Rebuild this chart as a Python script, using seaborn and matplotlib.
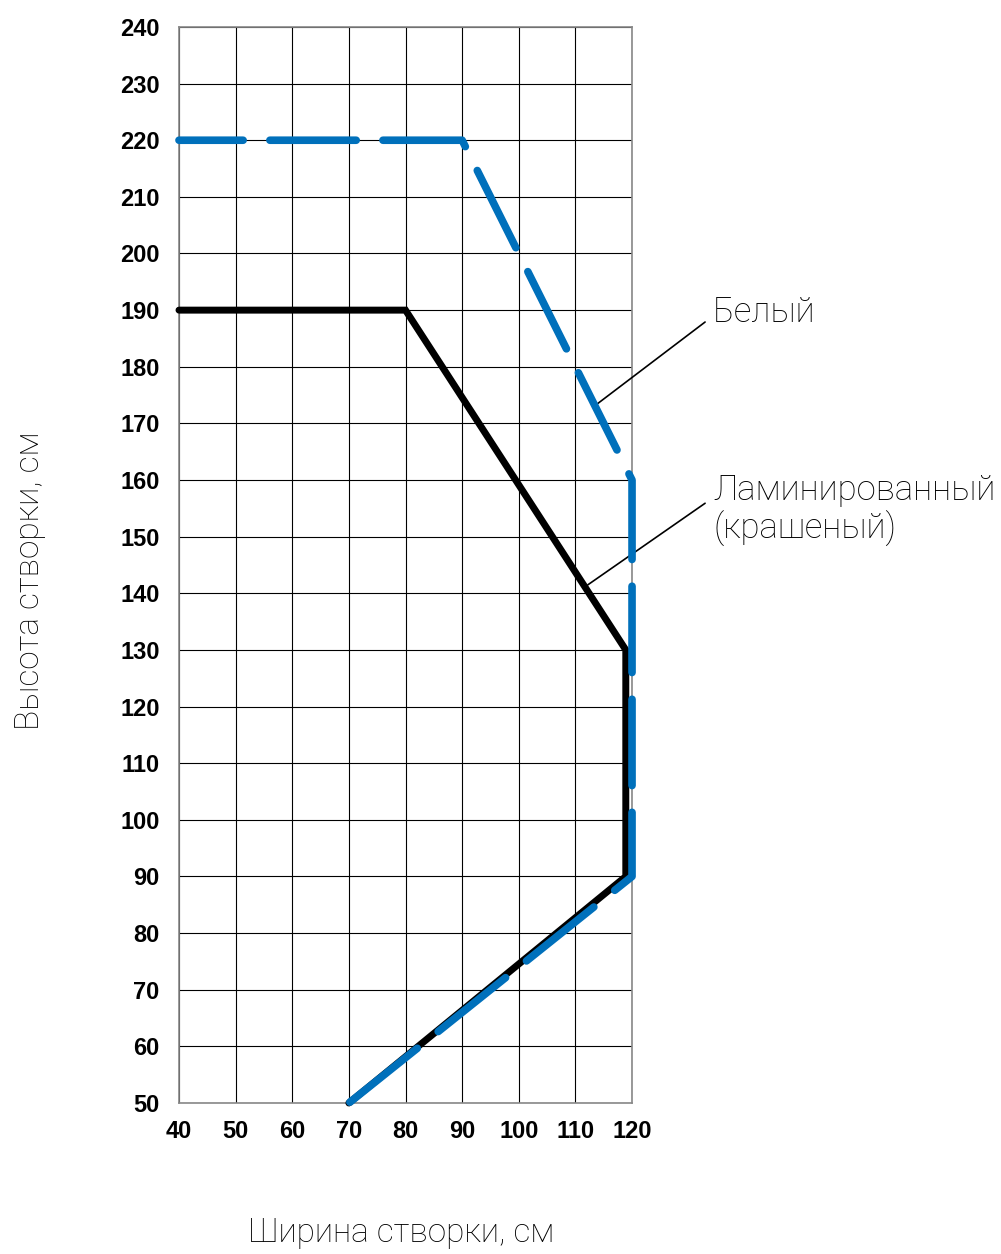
import matplotlib
matplotlib.use("Agg")
import matplotlib.pyplot as plt
import seaborn as sns
import pandas as pd

white_x = [40, 90, 120, 120, 70]
white_y = [220, 220, 160, 90, 50]
lam_x = [40, 80, 118.9, 118.9, 70]
lam_y = [190, 190, 130, 90, 50]
x_ticks = [40, 50, 60, 70, 80, 90, 100, 110, 120]
y_ticks = list(range(50, 241, 10))
label_white = "Белый"
label_lam = "Ламинированный\n(крашеный)"
xlabel = "Ширина створки, см"
ylabel = "Высота створки, см"

sns.set_style("white")
plt.rcParams['font.family'] = ['Liberation Sans', 'DejaVu Sans']
plt.rcParams['text.color'] = 'black'
plt.rcParams['xtick.color'] = 'black'
plt.rcParams['ytick.color'] = 'black'

light = dict(family=['Roboto', 'Liberation Sans', 'DejaVu Sans'], weight='light')

fig = plt.figure(figsize=(10.01, 12.54), dpi=100)
ax = fig.add_axes([0.1788, 0.1204, 0.6314 - 0.1788, 0.9785 - 0.1204])

df_w = pd.DataFrame({"x": white_x, "y": white_y})
df_l = pd.DataFrame({"x": lam_x, "y": lam_y})

sns.lineplot(data=df_l, x="x", y="y", sort=False, estimator=None, ax=ax,
             color="black", linewidth=5.0, zorder=3)
blk = ax.lines[-1]
blk.set_solid_joinstyle("miter")
blk.set_solid_capstyle("round")
blk.set_clip_on(False)
sns.lineplot(data=df_w, x="x", y="y", sort=False, estimator=None, ax=ax,
             color="#0070bb", linewidth=5.5, zorder=4)
blue = ax.lines[-1]
blue.set_linestyle((2.9, (11.3, 3.5)))
blue.set_dash_capstyle("round")
blue.set_dash_joinstyle("round")
blue.set_clip_on(False)

ax.set_xlim(40, 120)
ax.set_ylim(50, 240)
ax.set_xticks(x_ticks)
ax.set_yticks(y_ticks)
ax.grid(True, color="black", linewidth=0.8)
ax.set_axisbelow(True)
for s in ax.spines.values():
    s.set_color("#888888")
    s.set_linewidth(1.2)
ax.tick_params(axis="both", length=0, labelsize=17)
ax.tick_params(axis="y", pad=14)
ax.tick_params(axis="x", pad=12)
for t in ax.get_xticklabels() + ax.get_yticklabels():
    t.set_fontweight("bold")

ax.set_xlabel("")
ax.set_ylabel("")
fig.text(0.401, 0.004, xlabel, ha="center", va="bottom", fontsize=24, **light)
fig.text(0.030, 0.5367, ylabel, ha="center", va="center", rotation=90,
         fontsize=24, **light)

# leader lines
ax.annotate("", xy=(113.8, 173.4), xytext=(132.9, 187.9), annotation_clip=False,
            arrowprops=dict(arrowstyle="-", color="black", lw=1.2, shrinkA=0, shrinkB=0))
ax.annotate("", xy=(112.2, 141.5), xytext=(132.9, 155.9), annotation_clip=False,
            arrowprops=dict(arrowstyle="-", color="black", lw=1.2, shrinkA=0, shrinkB=0))
ax.text(134.3, 189.7, label_white, fontsize=25, ha="left", va="center",
        clip_on=False, **light)
ax.text(134.3, 154.7, label_lam, fontsize=25, ha="left", va="center",
        linespacing=1.15, clip_on=False, **light)

fig.savefig("out.png", dpi=100)
